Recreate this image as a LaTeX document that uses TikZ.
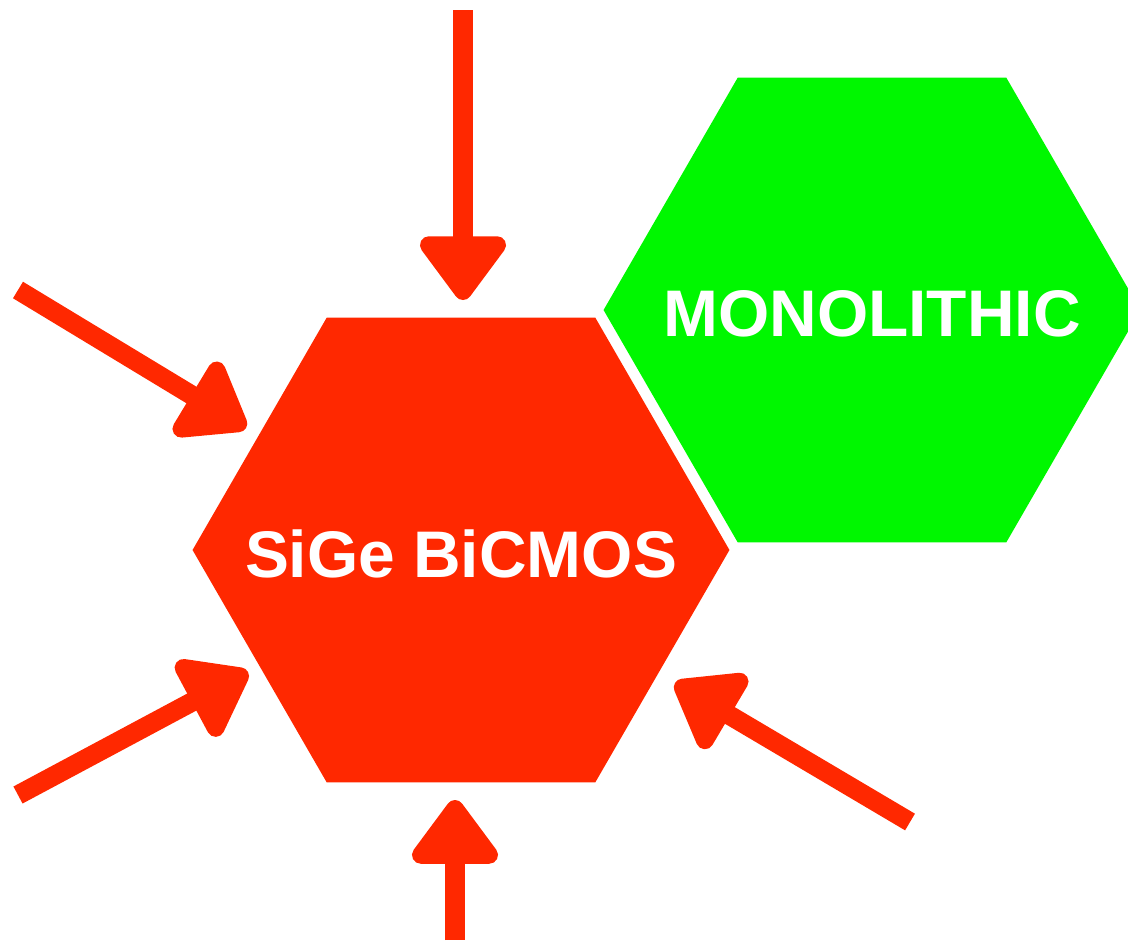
\documentclass[tikz,border=0pt]{standalone}
\usepackage{fontspec}
\setmainfont{Liberation Sans}
\usetikzlibrary{shapes.geometric,arrows.meta}
\definecolor{hexred}{RGB}{255,40,0}
\definecolor{hexgreen}{RGB}{0,247,0}
\begin{document}
\begin{tikzpicture}[x=0.02cm,y=-0.02cm,inner sep=0pt,outer sep=0pt,
hexa/.style={regular polygon,regular polygon sides=6,minimum size=10.74cm},
hexlabel/.style={text=white,font=\bfseries\fontsize{37.5}{37.5}\selectfont},
push/.style={draw=hexred,line width=11pt,-{Triangle[length=40pt,width=56pt,round]}}]

\useasboundingbox (0,0) rectangle (1128,940);
\begin{scope}
\clip (0,0) rectangle (1128,940);
\draw (461,550) node[hexa,fill=hexred] (bicmos) {};
\draw (872,310) node[hexa,fill=hexgreen] (mono) {};
\end{scope}
\draw (bicmos.center) ++(0,4) node[hexlabel] (bicmostext) {SiGe BiCMOS};
\draw (mono.center) ++(0,4) node[hexlabel] (monotext) {MONOLITHIC};

% arrows pushing on the red hexagon
\coordinate (top0) at (463,10);    \coordinate (top1) at (463,300);
\coordinate (ul0) at (18,290);     \coordinate (ul1) at (246,428);
\coordinate (ll0) at (18,795);     \coordinate (ll1) at (248,672);
\coordinate (bot0) at (455,940);   \coordinate (bot1) at (455,800);
\coordinate (lr0) at (910,822);    \coordinate (lr1) at (675,683);

\draw[push] (top0) -- (top1);
\draw[push] (ul0) -- (ul1);
\draw[push] (ll0) -- (ll1);
\draw[push] (bot0) -- (bot1);
\draw[push] (lr0) -- (lr1);
\end{tikzpicture}
\end{document}
